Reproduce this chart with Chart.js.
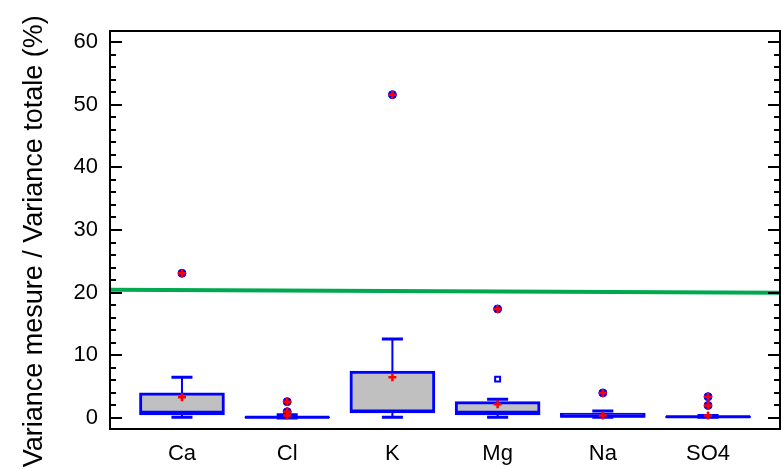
<!DOCTYPE html>
<html>
<head>
<meta charset="utf-8">
<script src="https://cdn.jsdelivr.net/npm/chart.js@4.4.1/dist/chart.umd.min.js"></script>
<style>
  html, body { margin: 0; padding: 0; background: #ffffff; }
  #wrap { width: 781px; height: 469px; position: relative; }
</style>
</head>
<body>
<div id="wrap"><canvas id="boxChart"></canvas></div>
<script>
const categories = ["Ca", "Cl", "K", "Mg", "Na", "SO4"];
const q1 = [0.5, 0.0, 0.8, 0.5, 0.1, 0.05];
const q3 = [4.0, 0.2, 7.5, 2.6, 0.8, 0.3];
const medians = [0.9, 0.1, 1.1, 0.9, 0.3, 0.2];
const whiskerLow = [0.1, 0.0, 0.1, 0.1, 0.1, 0.1];
const whiskerHigh = [6.5, 0.5, 12.6, 3.0, 1.1, 0.4];
const means = [3.3, 0.4, 6.5, 2.2, 0.4, 0.4];
const outliers = [[23.1], [2.6, 1.0], [51.6], [17.4], [4.0], [3.4, 2.0]];
const hollowOutliers = [[], [], [], [6.2], [], []];
const refLine = [20.45, 20.0];
const yTicks = [0, 10, 20, 30, 40, 50, 60];

const xMin = 0.316, xMax = 6.684;
const yMin = -1.76, yMax = 61.76;

// helpers that turn the arrays into segment lists (y: null breaks the line)
function hSegments(values, half) {
    const pts = [];
    values.forEach((v, i) => {
        pts.push({ x: i + 1 - half, y: v }, { x: i + 1 + half, y: v }, { x: i + 1, y: null });
    });
    return pts;
}

const whiskerPts = [];
categories.forEach((c, i) => {
    whiskerPts.push({ x: i + 1, y: q3[i] }, { x: i + 1, y: whiskerHigh[i] }, { x: i + 1, y: null });
    whiskerPts.push({ x: i + 1, y: q1[i] }, { x: i + 1, y: whiskerLow[i] }, { x: i + 1, y: null });
});

const outlierPts = [];
outliers.forEach((list, i) => list.forEach(v => outlierPts.push({ x: i + 1, y: v })));
const hollowPts = [];
hollowOutliers.forEach((list, i) => list.forEach(v => hollowPts.push({ x: i + 1, y: v })));

// frame + inward ticks on both y sides
const frameTicks = {
    id: "frameTicks",
    afterDraw(chart) {
        const { ctx, chartArea: a, scales: { y } } = chart;
        ctx.save();
        ctx.strokeStyle = "#000000";
        ctx.lineWidth = 2;
        for (let v = 0; v <= 60; v += 2) {
            const py = Math.round(y.getPixelForValue(v));
            const len = v % 10 === 0 ? 12 : 6;
            ctx.beginPath();
            ctx.moveTo(a.left, py);
            ctx.lineTo(a.left + len, py);
            ctx.moveTo(a.right, py);
            ctx.lineTo(a.right - len, py);
            ctx.stroke();
        }
        ctx.strokeRect(a.left, a.top, a.right - a.left, a.bottom - a.top);
        ctx.restore();
    }
};

const ctx = document.getElementById("boxChart").getContext("2d");

new Chart(ctx, {
    type: "bar",
    data: {
        datasets: [
            {
                type: "bar",
                data: categories.map((c, i) => ({ x: i + 1, y: [q1[i], q3[i]] })),
                backgroundColor: "#c0c0c0",
                borderColor: "#0000ff",
                borderWidth: 3,
                borderSkipped: false,
                barThickness: 85,
                order: 10
            },
            {
                type: "line",
                data: whiskerPts,
                borderColor: "#0000ff",
                borderWidth: 2,
                pointRadius: 0,
                spanGaps: false,
                order: 6
            },
            {
                type: "line",
                data: hSegments(whiskerHigh, 0.1).concat(hSegments(whiskerLow, 0.1)),
                borderColor: "#0000ff",
                borderWidth: 3,
                pointRadius: 0,
                spanGaps: false,
                order: 5
            },
            {
                type: "line",
                data: hSegments(medians, 0.4),
                borderColor: "#0000ff",
                borderWidth: 3,
                pointRadius: 0,
                spanGaps: false,
                order: 4
            },
            {
                type: "line",
                data: [{ x: xMin, y: refLine[0] }, { x: xMax, y: refLine[1] }],
                borderColor: "#00a84f",
                borderWidth: 4,
                pointRadius: 0,
                order: 3
            },
            {
                type: "scatter",
                data: outlierPts,
                pointStyle: "circle",
                pointRadius: 4,
                backgroundColor: "#0000ff",
                borderColor: "#0000ff",
                borderWidth: 1,
                order: 2
            },
            {
                type: "scatter",
                data: hollowPts,
                pointStyle: "rect",
                pointRadius: 3.5,
                backgroundColor: "#ffffff",
                borderColor: "#0000ff",
                borderWidth: 2,
                order: 2
            },
            {
                type: "scatter",
                data: outlierPts.concat(means.map((m, i) => ({ x: i + 1, y: m }))),
                pointStyle: "cross",
                pointRadius: 4,
                borderColor: "#ff0000",
                borderWidth: 2.5,
                order: 1
            }
        ]
    },
    options: {
        responsive: true,
        maintainAspectRatio: false,
        animation: false,
        layout: { autoPadding: false, padding: { top: 31, right: 1, left: 0, bottom: 0 } },
        plugins: {
            legend: { display: false },
            tooltip: { enabled: false }
        },
        scales: {
            x: {
                type: "linear",
                min: xMin,
                max: xMax,
                offset: false,
                grid: { display: false, drawTicks: false },
                border: { display: false },
                afterBuildTicks: axis => { axis.ticks = categories.map((c, i) => ({ value: i + 1 })); },
                afterFit: axis => { axis.height = 40; },
                ticks: {
                    padding: 12,
                    autoSkip: false,
                    maxRotation: 0,
                    color: "#000000",
                    font: { family: "Liberation Sans", size: 22 },
                    callback: v => categories[v - 1]
                }
            },
            y: {
                type: "linear",
                min: yMin,
                max: yMax,
                grid: { display: false, drawTicks: false },
                border: { display: false },
                afterBuildTicks: axis => { axis.ticks = yTicks.map(v => ({ value: v })); },
                afterFit: axis => { axis.width = 110; },
                ticks: {
                    padding: 12,
                    color: "#000000",
                    font: { family: "Liberation Sans", size: 22 }
                },
                title: {
                    display: true,
                    // trailing spaces nudge the centred title down to where the original sits
                    text: "Variance mesure / Variance totale (%)   ",
                    color: "#000000",
                    font: { family: "Liberation Sans", size: 27, weight: "normal" },
                    padding: { top: 18, bottom: 0 }
                }
            }
        }
    },
    plugins: [frameTicks]
});
</script>
</body>
</html>
